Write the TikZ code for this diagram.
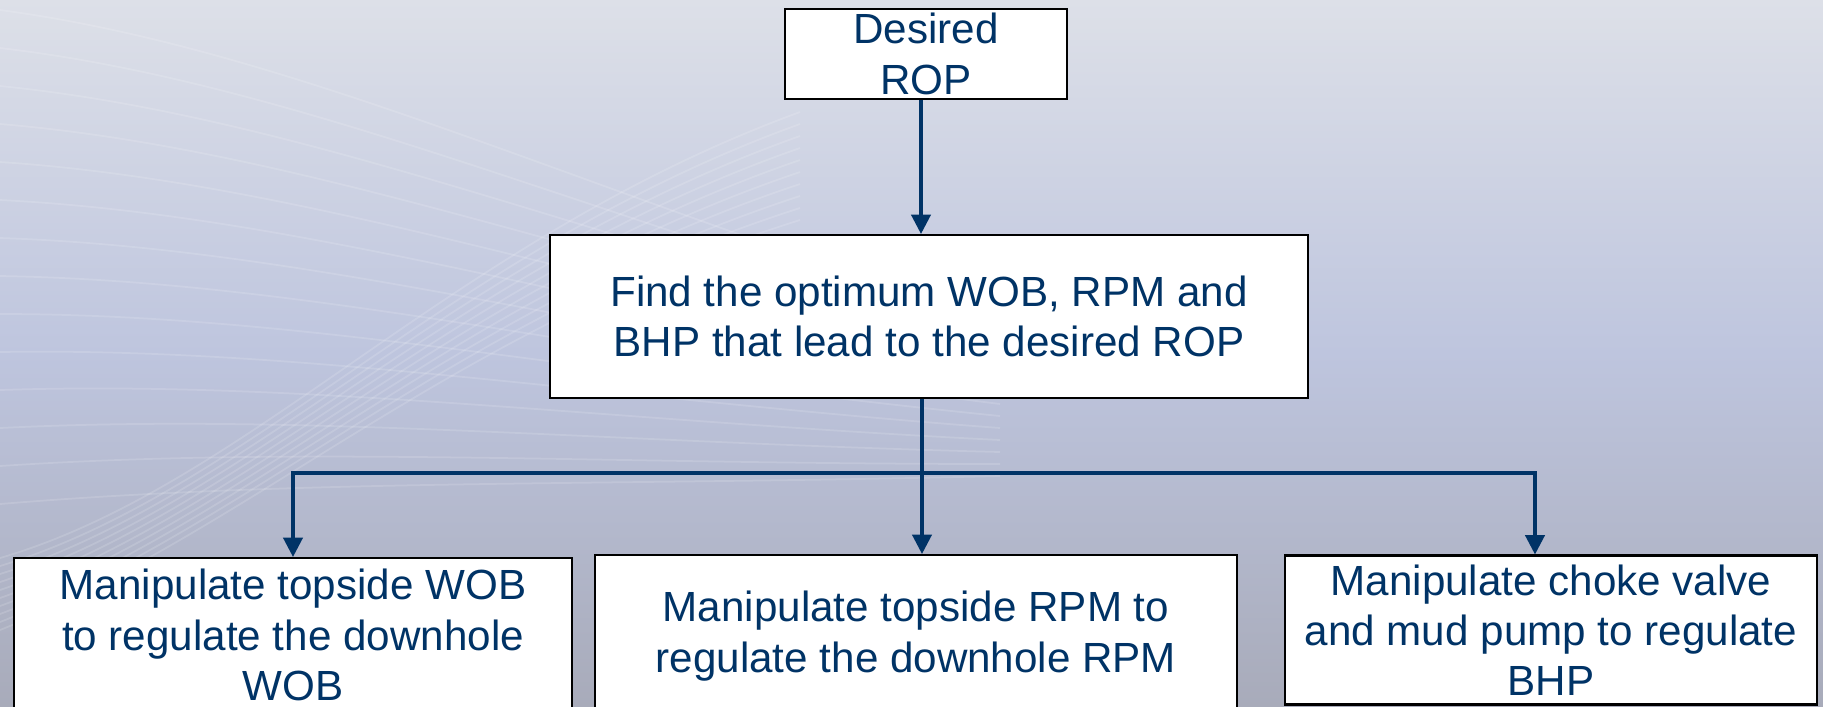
\documentclass[tikz,border=0pt]{standalone}
\usepackage{fontspec}
\setmainfont{Liberation Sans}
\usepackage{xcolor}
\usetikzlibrary{arrows.meta,positioning,calc}
\definecolor{ropnavy}{RGB}{0,51,102}
\definecolor{bgtop}{RGB}{221,224,232}
\definecolor{bgmid}{RGB}{190,197,222}
\definecolor{bgbot}{RGB}{168,171,186}
\tikzset{
  ropnode/.style={
    rectangle, draw=black, line width=0.6pt, fill=white,
    align=center, text=ropnavy, inner xsep=2pt, inner ysep=1pt,
    font=\fontsize{12}{14.3}\selectfont
  },
  roparrow/.style={-{Triangle[width=5.5pt,length=5.5pt]}, line width=0.9pt, draw=ropnavy},
  bgwave/.style={white, opacity=0.14, line width=0.5pt},
}

\begin{document}
\begin{tikzpicture}
  % background
  \shade[top color=bgtop, bottom color=bgbot, middle color=bgmid] (0,0) rectangle (18.23,-7.06);
  \useasboundingbox (0,0) rectangle (18.23,-7.06);
  \foreach \k in {0,...,13}
    \draw[bgwave] (0,-0.1-0.38*\k) .. controls (3,-0.5-0.33*\k) and (6,-2.0-0.22*\k) .. (10,-3.2-0.12*\k);
  \foreach \k in {0,...,9}
    \draw[bgwave] (0,-6.3+0.08*\k) .. controls (2.5,-5.3+0.05*\k) and (4.5,-3.3+0.1*\k) .. (8,-2.2+0.12*\k);

  \node (n1) [ropnode, minimum width=2.82cm, minimum height=0.90cm] at (9.26,-0.54) {Desired\\ROP};
  \node (n2) [ropnode, minimum width=7.58cm, minimum height=1.63cm] at (9.29,-3.165) {Find the optimum WOB, RPM and\\BHP that lead to the desired ROP};
  \node (n3) [ropnode, minimum width=5.58cm, minimum height=1.54cm] at (2.93,-6.35) {Manipulate topside WOB\\to regulate the downhole\\WOB};
  \node (n4) [ropnode, minimum width=6.42cm, minimum height=1.62cm] at (9.16,-6.36) {Manipulate topside RPM to\\regulate the downhole RPM};
  \node (n5) [ropnode, minimum width=5.32cm, minimum height=1.49cm] at (15.51,-6.30) {Manipulate choke valve\\and mud pump to regulate\\BHP};

  \coordinate (split) at (9.22,-4.73);
  \draw[roparrow] ([xshift=-0.05cm]n1.south) -- ([xshift=-0.05cm]n1.south |- n2.north);
  \draw[roparrow] (n2.south -| split) -- (split |- n4.north);
  \draw[roparrow] (split) -| (n3.north);
  \draw[roparrow] (split) -| ([xshift=-0.16cm]n5.north);
\end{tikzpicture}
\end{document}
